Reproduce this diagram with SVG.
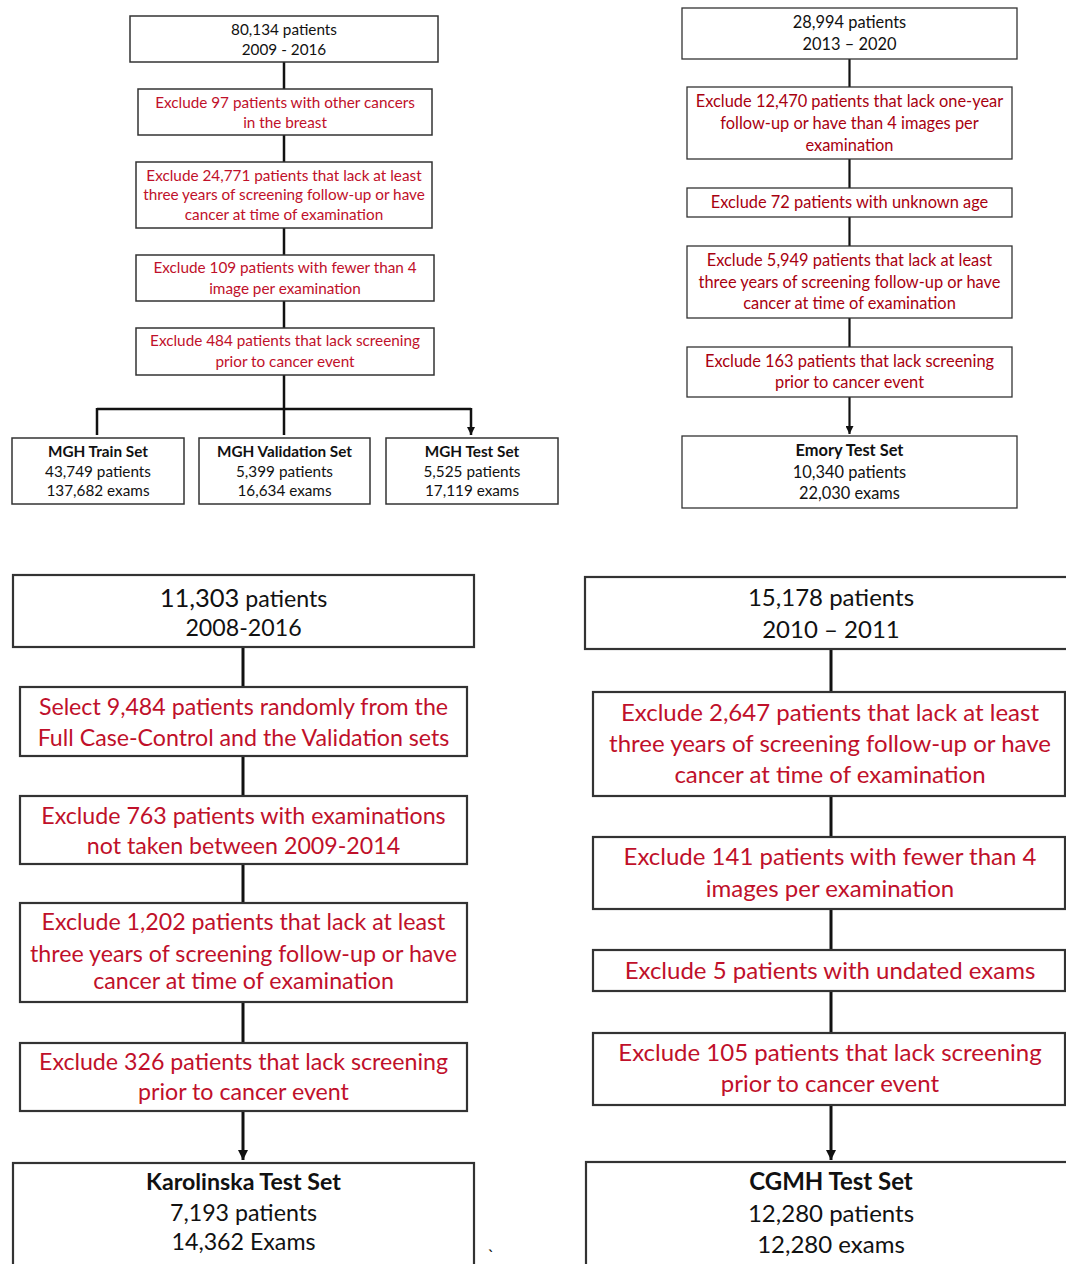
<svg xmlns="http://www.w3.org/2000/svg" width="1066" height="1264" viewBox="0 0 1066 1264">
<defs>
<style>
text{font-family:Lato,"Open Sans","Liberation Sans",sans-serif;text-anchor:middle}
.box{fill:#fff;stroke:#333}
.tl .box{stroke-width:1.5}
.tr .box{stroke-width:1.3}
.bt .box{stroke-width:2.2}
.k{fill:#111}
.r{fill:#c0102a}
.r2{fill:#a8000f}
.b{font-weight:bold}
.s1{font-size:15.3px}
.s2{font-size:16.4px}
.s3{font-size:23.2px}
.s4{font-size:24px}
.c{stroke:#111;fill:none}
</style>
<marker id="ah" viewBox="0 0 10 10" refX="10" refY="5" markerWidth="8" markerHeight="8" markerUnits="userSpaceOnUse" orient="auto"><path d="M0,0L10,5L0,10Z" fill="#111"/></marker>
<marker id="ah2" viewBox="0 0 10 10" refX="10" refY="5" markerWidth="10" markerHeight="10" markerUnits="userSpaceOnUse" orient="auto"><path d="M0,0L10,5L0,10Z" fill="#111"/></marker>
</defs>
<rect width="1066" height="1264" fill="#fff"/>

<g id="connectors">
<g stroke-width="2.5" class="c">
<path class="c" d="M284,62V89M284,135V162M284,228V255M284,301V328M284,375V409M97,409H471"/>
<path class="c" d="M97,408V435M284,408V435M471,408V435" marker-end="url(#ah)"/>
</g>
<g stroke-width="2.2" class="c">
<path class="c" d="M849.5,59V87M849.5,159V188M849.5,217V246M849.5,318V347"/>
<path class="c" d="M849.5,397V434" marker-end="url(#ah)"/>
</g>
<g stroke-width="3" class="c">
<path class="c" d="M243,647V687M243,756V796M243,864V903M243,1002V1043"/>
<path class="c" d="M243,1111V1160" marker-end="url(#ah2)"/>
<path class="c" d="M831,649V692M831,796V837M831,909V950M831,991V1033"/>
<path class="c" d="M831,1105V1160" marker-end="url(#ah2)"/>
</g>
</g>

<g class="tl">
<g id="mgh-start"><rect class="box" x="130" y="16" width="308" height="46"/>
<text class="k s1" x="284" y="35">80,134 patients</text><text class="k s1" x="284" y="55">2009 - 2016</text></g>
<g id="mgh-ex1"><rect class="box" x="138" y="89" width="294" height="46"/>
<text class="r s1" x="285" y="108">Exclude 97 patients with other cancers</text><text class="r s1" x="285" y="128">in the breast</text></g>
<g id="mgh-ex2"><rect class="box" x="136" y="162" width="296" height="66"/>
<text class="r s1" x="284" y="181">Exclude 24,771 patients that lack at least</text><text class="r s1" x="284" y="200">three years of screening follow-up or have</text><text class="r s1" x="284" y="220">cancer at time of examination</text></g>
<g id="mgh-ex3"><rect class="box" x="136" y="255" width="298" height="46"/>
<text class="r s1" x="285" y="273">Exclude 109 patients with fewer than 4</text><text class="r s1" x="285" y="294">image per examination</text></g>
<g id="mgh-ex4"><rect class="box" x="136" y="328" width="298" height="47"/>
<text class="r s1" x="285" y="346">Exclude 484 patients that lack screening</text><text class="r s1" x="285" y="367">prior to cancer event</text></g>
<g id="mgh-train"><rect class="box" x="12" y="438" width="172" height="66"/>
<text class="k s1 b" x="98" y="457">MGH Train Set</text><text class="k s1" x="98" y="477">43,749 patients</text><text class="k s1" x="98" y="496">137,682 exams</text></g>
<g id="mgh-val"><rect class="box" x="199" y="438" width="171" height="66"/>
<text class="k s1 b" x="284.5" y="457">MGH Validation Set</text><text class="k s1" x="284.5" y="477">5,399 patients</text><text class="k s1" x="284.5" y="496">16,634 exams</text></g>
<g id="mgh-test"><rect class="box" x="386" y="438" width="172" height="66"/>
<text class="k s1 b" x="472" y="457">MGH Test Set</text><text class="k s1" x="472" y="477">5,525 patients</text><text class="k s1" x="472" y="496">17,119 exams</text></g>
</g>

<g class="tr">
<g id="emory-start"><rect class="box" x="682" y="8" width="335" height="51"/>
<text class="k s2" x="849.5" y="28">28,994 patients</text><text class="k s2" x="849.5" y="50">2013 – 2020</text></g>
<g id="emory-ex1"><rect class="box" x="687" y="87" width="325" height="72"/>
<text class="r2 s2" x="849.5" y="107">Exclude 12,470 patients that lack one-year</text><text class="r2 s2" x="849.5" y="129">follow-up or have than 4 images per</text><text class="r2 s2" x="849.5" y="151">examination</text></g>
<g id="emory-ex2"><rect class="box" x="687" y="188" width="325" height="29"/>
<text class="r2 s2" x="849.5" y="208">Exclude 72 patients with unknown age</text></g>
<g id="emory-ex3"><rect class="box" x="687" y="246" width="325" height="72"/>
<text class="r2 s2" x="849.5" y="266">Exclude 5,949 patients that lack at least</text><text class="r2 s2" x="849.5" y="288">three years of screening follow-up or have</text><text class="r2 s2" x="849.5" y="309">cancer at time of examination</text></g>
<g id="emory-ex4"><rect class="box" x="687" y="347" width="325" height="50"/>
<text class="r2 s2" x="849.5" y="367">Exclude 163 patients that lack screening</text><text class="r2 s2" x="849.5" y="388">prior to cancer event</text></g>
<g id="emory-test"><rect class="box" x="682" y="436" width="335" height="72"/>
<text class="k s2 b" x="849.5" y="456">Emory Test Set</text><text class="k s2" x="849.5" y="478">10,340 patients</text><text class="k s2" x="849.5" y="499">22,030 exams</text></g>
</g>

<g class="bt">
<g id="ki-start"><rect class="box" x="13" y="575" width="461" height="72"/>
<text class="k s3" x="243.5" y="607"><tspan font-size="25.5px">11,303</tspan> patients</text><text class="k s3" x="243.5" y="636">2008-2016</text></g>
<g id="ki-ex1"><rect class="box" x="20" y="687" width="447" height="69"/>
<text class="r s3" x="243.5" y="715">Select 9,484 patients randomly from the</text><text class="r s3" x="243.5" y="746">Full Case-Control and the Validation sets</text></g>
<g id="ki-ex2"><rect class="box" x="20" y="796" width="447" height="68"/>
<text class="r s3" x="243.5" y="824">Exclude 763 patients with examinations</text><text class="r s3" x="243.5" y="854">not taken between 2009-2014</text></g>
<g id="ki-ex3"><rect class="box" x="20" y="903" width="447" height="99"/>
<text class="r s3" x="243.5" y="930">Exclude 1,202 patients that lack at least</text><text class="r s3" x="243.5" y="962">three years of screening follow-up or have</text><text class="r s3" x="243.5" y="989">cancer at time of examination</text></g>
<g id="ki-ex4"><rect class="box" x="20" y="1043" width="447" height="68"/>
<text class="r s3" x="243.5" y="1070">Exclude 326 patients that lack screening</text><text class="r s3" x="243.5" y="1100">prior to cancer event</text></g>
<g id="ki-test"><rect class="box" x="13" y="1163" width="461" height="110"/>
<text class="k s3 b" x="243.5" y="1190">Karolinska Test Set</text><text class="k s3" x="243.5" y="1221">7,193 patients</text><text class="k s3" x="243.5" y="1250">14,362 Exams</text></g>
<text class="k" x="491" y="1262" font-size="18px">`</text>

<g id="cgmh-start"><rect class="box" x="585" y="577" width="491" height="72"/>
<text class="k s4" x="831" y="606">15,178 patients</text><text class="k s4" x="831" y="638">2010 – 2011</text></g>
<g id="cgmh-ex1"><rect class="box" x="593" y="692" width="472" height="104"/>
<text class="r s4" x="830" y="721">Exclude 2,647 patients that lack at least</text><text class="r s4" x="830" y="752">three years of screening follow-up or have</text><text class="r s4" x="830" y="783">cancer at time of examination</text></g>
<g id="cgmh-ex2"><rect class="box" x="593" y="837" width="472" height="72"/>
<text class="r s4" x="830" y="865">Exclude 141 patients with fewer than 4</text><text class="r s4" x="830" y="897">images per examination</text></g>
<g id="cgmh-ex3"><rect class="box" x="593" y="950" width="472" height="41"/>
<text class="r s4" x="830" y="979">Exclude 5 patients with undated exams</text></g>
<g id="cgmh-ex4"><rect class="box" x="593" y="1033" width="472" height="72"/>
<text class="r s4" x="830" y="1061">Exclude 105 patients that lack screening</text><text class="r s4" x="830" y="1092">prior to cancer event</text></g>
<g id="cgmh-test"><rect class="box" x="586" y="1162" width="490" height="110"/>
<text class="k s4 b" x="831" y="1190">CGMH Test Set</text><text class="k s4" x="831" y="1222">12,280 patients</text><text class="k s4" x="831" y="1253">12,280 exams</text></g>
</g>
</svg>
